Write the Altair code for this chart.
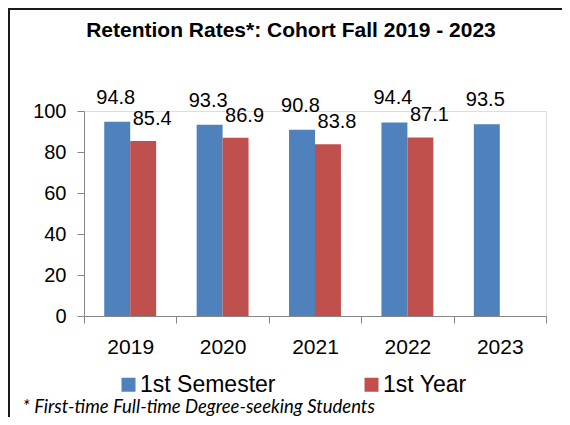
import altair as alt
import pandas as pd

years = ["2019", "2020", "2021", "2022", "2023"]
first_semester = [94.8, 93.3, 90.8, 94.4, 93.5]
first_year = [85.4, 86.9, 83.8, 87.1, None]
series_names = ["1st Semester", "1st Year"]
series_colors = ["#4F81BD", "#C0504D"]

rows = []
for y, s, f in zip(years, first_semester, first_year):
    rows.append({"year": y, "series": series_names[0], "value": s})
    if f is not None:
        rows.append({"year": y, "series": series_names[1], "value": f})
df = pd.DataFrame(rows)

FONT = "Liberation Sans"
AXIS_GRAY = "#868686"

base = alt.Chart(df)

x_enc = alt.X(
    "year:N",
    sort=years,
    scale=alt.Scale(paddingInner=0, paddingOuter=0),
    axis=alt.Axis(
        title="* First-time Full-time Degree-seeking Students",
        titleFont="Lato",
        titleFontStyle="italic",
        titleFontWeight="normal",
        titleFontSize=18.5,
        titleColor="#000000",
        titleX=-62,
        titleY=96,
        titleAlign="left",
        titleBaseline="alphabetic",
        titleAnchor="start",
        labelAngle=0,
        labelFont=FONT,
        labelFontSize=21,
        labelColor="#000000",
        labelPadding=13,
        tickBand="extent",
        tickSize=7,
        tickColor=AXIS_GRAY,
        domainColor=AXIS_GRAY,
        grid=False,
    ),
)
xoff_enc = alt.XOffset(
    "series:N",
    sort=series_names,
    scale=alt.Scale(domain=series_names, paddingInner=0, paddingOuter=0.78),
)
y_enc = alt.Y(
    "value:Q",
    scale=alt.Scale(domain=[0, 100], nice=False),
    axis=alt.Axis(
        title=None,
        values=[0, 20, 40, 60, 80, 100],
        labelFont=FONT,
        labelFontSize=20,
        labelColor="#000000",
        labelPadding=11,
        tickSize=7,
        tickColor=AXIS_GRAY,
        domainColor=AXIS_GRAY,
        grid=False,
    ),
)

bars = base.mark_bar().encode(
    x=x_enc,
    xOffset=xoff_enc,
    y=y_enc,
    color=alt.Color(
        "series:N",
        scale=alt.Scale(domain=series_names, range=series_colors),
        legend=alt.Legend(
            title=None,
            orient="none",
            legendX=33,
            legendY=262,
            direction="horizontal",
            columns=2,
            columnPadding=84,
            symbolType="square",
            symbolSize=196,
            symbolStrokeWidth=0,
            labelFont=FONT,
            labelFontSize=23,
            labelColor="#000000",
            labelOffset=0,
            padding=0,
        ),
    ),
)

labels_sem = base.transform_filter(alt.datum.series == series_names[0]).mark_text(
    font=FONT, fontSize=20, color="#000000", baseline="alphabetic", dy=-18, dx=-1.5
).encode(x=x_enc, xOffset=xoff_enc, y=y_enc, text=alt.Text("value:Q", format=".1f"))

labels_year = base.transform_filter(alt.datum.series == series_names[1]).mark_text(
    font=FONT, fontSize=20, color="#000000", baseline="alphabetic", dy=-16, dx=9
).encode(x=x_enc, xOffset=xoff_enc, y=y_enc, text=alt.Text("value:Q", format=".1f"))

border = alt.Chart(pd.DataFrame({"a": [0]})).mark_rect(
    filled=False, stroke="#1a1a1a", strokeWidth=2
).encode(
    x=alt.value(-75), x2=alt.value(600), y=alt.value(-102), y2=alt.value(400)
)

chart = (
    alt.layer(border, bars, labels_sem, labels_year)
    .properties(
        width=462,
        height=205,
        autosize=alt.AutoSizeParams(type="none"),
        padding={"left": 76, "top": 103, "right": 16, "bottom": 101},
        title=alt.TitleParams(
            text="Retention Rates*: Cohort Fall 2019 - 2023",
            font=FONT,
            fontSize=21,
            fontWeight="bold",
            color="#000000",
            anchor="middle",
            baseline="alphabetic",
            dx=-24,
            dy=21,
            offset=-29,
        ),
    )
    .configure_view(stroke=None)
    .configure(background="#ffffff")
)

chart.save("out.html", embed_options={"renderer": "svg", "actions": False})
